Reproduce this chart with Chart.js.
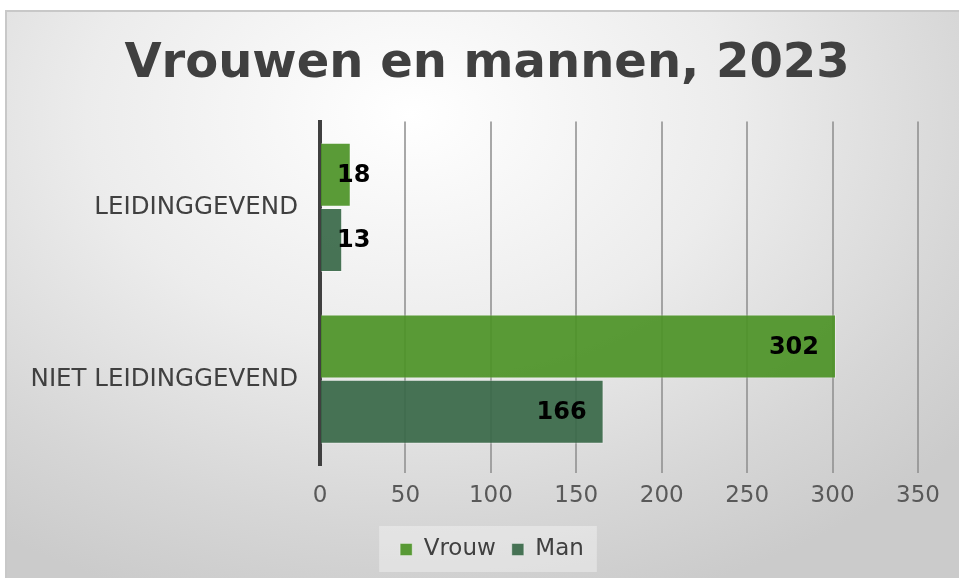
<!DOCTYPE html>
<html>
<head>
<meta charset="utf-8">
<script src="https://cdn.jsdelivr.net/npm/chart.js@4"></script>
<style>
  body { margin: 0; background: #fff; }
  #wrap { position: relative; width: 959px; height: 578px; overflow: hidden; }
  #frame {
    position: absolute; left: 5px; top: 10px; width: 960px; height: 570px;
    border-top: 2px solid #c8c8c8; border-left: 2px solid #c8c8c8;
    background: radial-gradient(ellipse 75% 90% at 42% 18%, #ffffff 0%, #ececec 45%, #d6d6d6 80%, #cbcbcb 100%);
  }
  #myChart { position: absolute; left: 0; top: 0; }
</style>
</head>
<body>
<div id="wrap">
  <div id="frame"></div>
  <canvas id="myChart" width="959" height="578"></canvas>
</div>
<script>
const categories = ['LEIDINGGEVEND', 'NIET LEIDINGGEVEND'];
const vrouw = [18, 302];
const man = [13, 166];
const xTicks = [0, 50, 100, 150, 200, 250, 300, 350];

// etichette dei valori sulle barre (niente plugin datalabels disponibile)
const valueLabels = {
    id: 'valueLabels',
    afterDatasetsDraw(chart) {
        const ctx = chart.ctx;
        ctx.save();
        ctx.font = 'bold 24px "DejaVu Sans"';
        ctx.fillStyle = '#000';
        ctx.textBaseline = 'middle';
        ctx.textAlign = 'left';
        chart.data.datasets.forEach((ds, i) => {
            const meta = chart.getDatasetMeta(i);
            meta.data.forEach((bar, j) => {
                const txt = String(ds.data[j]);
                const w = ctx.measureText(txt).width;
                let x = bar.x - 17 - w;
                if (x < bar.base + 16) x = bar.base + 16;
                ctx.fillText(txt, x, bar.y + 1);
            });
        });
        ctx.restore();
    }
};

// titolo e legenda un po' spostati a destra, come nell'originale
const shiftBlocks = {
    id: 'shiftBlocks',
    afterLayout(chart) {
        chart.titleBlock.left += 18;
        chart.titleBlock.right += 18;
        const d = 23;
        chart.legend.left += d;
        chart.legend.right += d;
        chart.legend.legendHitBoxes.forEach(h => { h.left += d; });
    }
};

// riquadro chiaro dietro la legenda
const legendBox = {
    id: 'legendBox',
    beforeDraw(chart) {
        const boxes = chart.legend.legendHitBoxes;
        if (!boxes || !boxes.length) return;
        let minX = Infinity, maxX = -Infinity, minY = Infinity, maxY = -Infinity;
        boxes.forEach(b => {
            minX = Math.min(minX, b.left);
            maxX = Math.max(maxX, b.left + b.width);
            minY = Math.min(minY, b.top);
            maxY = Math.max(maxY, b.top + b.height);
        });
        const ctx = chart.ctx;
        ctx.save();
        ctx.fillStyle = 'rgba(255,255,255,0.35)';
        ctx.fillRect(minX - 21, minY - 12, (maxX - minX) + 34, (maxY - minY) + 23);
        ctx.restore();
    }
};

const ctx = document.getElementById('myChart').getContext('2d');
const myChart = new Chart(ctx, {
    type: 'bar',
    data: {
        labels: categories,
        datasets: [
            {
                label: 'Vrouw',
                data: vrouw,
                backgroundColor: 'rgba(76, 146, 38, 0.92)',
                borderColor: 'rgba(255, 255, 255, 0.35)',
                borderWidth: 1,
                categoryPercentage: 0.76,
                barPercentage: 0.98,
            },
            {
                label: 'Man',
                data: man,
                backgroundColor: 'rgba(56, 104, 72, 0.92)',
                borderColor: 'rgba(255, 255, 255, 0.35)',
                borderWidth: 1,
                categoryPercentage: 0.76,
                barPercentage: 0.98,
            }
        ]
    },
    options: {
        indexAxis: 'y',
        responsive: false,
        animation: false,
        layout: { padding: { left: 20, right: 41, top: 0, bottom: 7 } },
        scales: {
            x: {
                min: 0,
                max: 350,
                afterBuildTicks: (scale) => { scale.ticks = xTicks.map(v => ({ value: v })); },
                afterFit: (scale) => { scale.height = 57; },
                grid: {
                    color: (c) => c.tick && c.tick.value === 0 ? 'rgba(0,0,0,0)' : 'rgba(140,140,140,0.75)',
                    lineWidth: 2,
                    tickLength: 8,
                },
                border: { display: false },
                ticks: {
                    padding: 9,
                    color: '#595959',
                    font: { family: '"DejaVu Sans"', size: 23 },
                }
            },
            y: {
                afterFit: (scale) => { scale.width = 300; },
                grid: { display: false, drawTicks: false },
                border: { display: true, color: '#404040', width: 4 },
                ticks: {
                    padding: 22,
                    color: '#404040',
                    font: { family: '"DejaVu Sans"', size: 24.5 },
                }
            }
        },
        plugins: {
            title: {
                display: true,
                text: 'Vrouwen en mannen, 2023',
                color: '#404040',
                font: { family: '"DejaVu Sans"', size: 48, weight: 'bold' },
                padding: { top: 36, bottom: 28 },
            },
            legend: {
                position: 'bottom',
                labels: {
                    color: '#404040',
                    boxWidth: 12,
                    boxHeight: 12,
                    padding: 16,
                    font: { family: '"DejaVu Sans"', size: 23 },
                }
            },
            tooltip: { enabled: false },
        }
    },
    plugins: [shiftBlocks, legendBox, valueLabels]
});
</script>
</body>
</html>
